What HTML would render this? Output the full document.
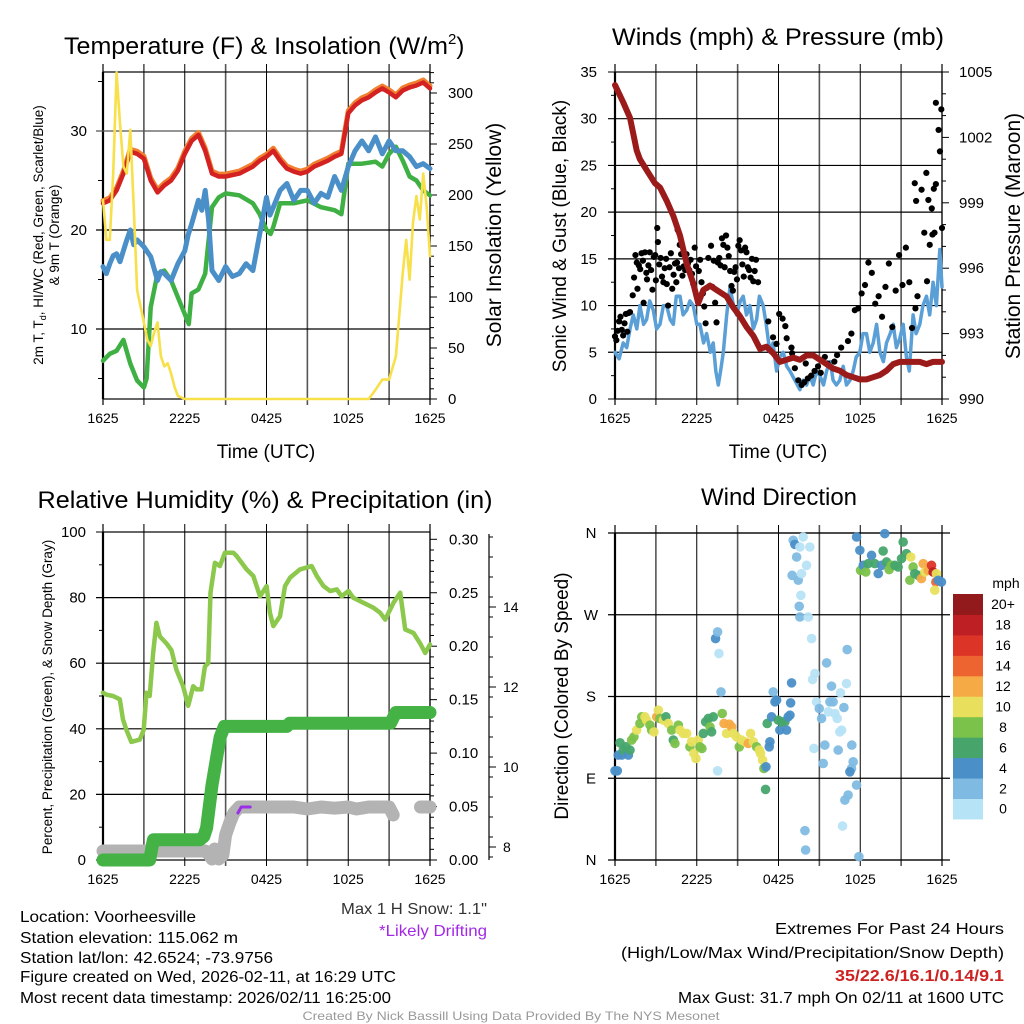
<!DOCTYPE html>
<html><head><meta charset="utf-8"><style>
html,body{margin:0;padding:0;background:#fff;width:1024px;height:1024px;overflow:hidden}
svg{display:block;font-family:"Liberation Sans",sans-serif}
</style></head><body>
<svg id="chart" xmlns="http://www.w3.org/2000/svg" width="1024" height="1024" viewBox="0 0 1024 1024"></svg>
<script>
// ---------------- DATA ----------------
const xTickLabels=["1625","2225","0425","1025","1625"];
const tempHours=[0,0.5,1,1.5,2,2.5,3,3.5,4,4.5,5,5.5,6,6.5,7,7.5,8,8.5,9,10,11,11.5,12,12.5,13,13.5,14,14.5,15,15.5,16,16.5,17,17.5,18,18.5,19,19.5,20,20.5,21,21.5,22,22.5,23,23.5,24];
const tempRed=[22.7,23,24,25.7,27.9,27.7,27.2,25,23.8,24.5,25,26,27.7,29,29.6,28,25.7,25.4,25.4,25.7,26.4,27,27.4,28,27,26.2,25.9,25.7,25.9,26.4,26.7,27,27.4,27.7,31.8,32.6,33.1,33.4,33.9,34.3,33.9,33.4,34.1,34.4,34.6,34.9,34.3];
const dewHours=[0,0.5,1,1.5,2,2.5,3,3.2,3.5,4,4.5,5,5.5,6,6.3,6.5,7,7.5,8,8.5,9,10,11,11.5,12,12.3,12.5,13,14,15,16,17,17.5,18,19,20,20.5,21,21.5,22,22.5,23,23.5,24];
const dewGreen=[6.8,7.5,7.8,8.9,6.5,4.8,4.1,5,12.2,15.6,15.9,14.9,13.2,11.5,10.5,13.6,14,15.6,22.3,23.3,23.7,23.5,22.7,21.6,20,19.6,20.3,22.7,22.7,23,22.3,22,21.6,26.7,26.7,26.9,26.4,27.7,28.4,27,25.4,25,24,23.5];
const wcHours=[0,0.25,0.5,0.75,1,1.25,1.5,1.75,2,2.25,2.5,3,3.25,3.5,4,4.25,4.5,5,5.5,6,6.25,6.5,7,7.25,7.5,7.75,8,8.5,9,9.5,10,10.5,11,11.5,12,12.25,12.5,13,13.5,14,14.5,15,15.5,16,16.5,17,17.5,18,18.5,19,19.5,20,20.5,21,21.5,22,22.5,23,23.5,24];
const wcBlue=[16.3,15.6,16.6,17.4,17.6,16.8,17.9,19,20,18.5,19,18.3,17.8,17.3,14.9,15.8,15.6,14.9,16.6,17.9,19.5,20.6,23,22,24,21,15.9,14.9,16.3,15.3,15.6,16.6,15.9,19.6,23.3,21.5,22.3,24,24.7,23,24,24,22.7,23.7,23.3,25.4,24,26.4,28,29,28,29.4,27.7,29,28,28,27.4,26.4,26.7,26.2];
const solHours=[0,0.25,0.5,0.75,1,1.25,1.5,1.75,2,2.25,2.5,2.75,3,3.25,3.5,3.75,4,4.25,4.5,4.75,5,5.25,5.5,6,19.5,20,20.5,21,21.5,22,22.25,22.5,22.75,23,23.25,23.5,23.75,24];
const solYellow=[195,156,156,221,320,270,228,221,264,189,107,91,75,58,52,65,75,42,32,35,25,12,3,0,0,9,19,19,42,124,156,117,173,199,176,221,189,140];

const windHours=[0,0.3,0.6,0.86,1.1,1.34,1.6,1.83,2.1,2.32,2.55,2.81,3.05,3.3,3.55,3.79,4.05,4.28,4.5,4.77,5,5.26,5.5,5.75,6,6.23,6.5,6.72,7,7.21,7.4,7.58,7.75,7.95,8.2,8.44,8.7,8.92,9.2,9.41,9.65,9.9,10.15,10.39,10.6,10.88,11.1,11.37,11.6,11.86,12.1,12.35,12.6,12.84,13.2,13.57,13.8,14.06,14.3,14.55,14.8,15.04,15.3,15.53,15.8,16.01,16.25,16.5,16.75,16.99,17.25,17.48,17.7,17.97,18.2,18.46,18.7,18.95,19.2,19.44,19.7,19.93,20.2,20.42,20.65,20.9,21.15,21.39,21.6,21.88,22.1,22.37,22.6,22.86,23.1,23.35,23.59,23.84,24];
const windBlue=[5,4.3,6,5.5,7.5,9,7.5,10,8,8.5,10.5,9.5,7.5,8,10,10,8.5,8,11,11,9,9.5,10.5,10,8,8,6,7,5,6,3,1.5,3,5,9,12,10,9,10.5,11,9,10,7.5,8.5,11,10,8,5,6,3,4.5,5,3.5,3,2,1,2,1.5,2.5,1.5,3,2.5,1.5,3,4,2,1.5,2,3.5,1.5,2,3,4.5,5,7,7,5,6,8,5,4,6,7,8,5.5,6.5,8,4.5,3,9,7,8,10,11,9,12.5,10,16,12,10.5];
const presHours=[0,0.61,1.1,1.59,1.83,2.32,2.93,3.3,3.79,4.28,4.77,5.26,5.75,6.11,6.48,6.97,7.46,8.19,8.68,9.17,9.66,10.15,10.64,11.12,11.61,12.1,12.59,13.08,13.57,14.06,14.55,15.04,15.53,16.01,16.5,16.99,17.48,17.97,18.46,18.95,19.44,19.93,20.42,20.9,21.39,22.37,22.86,23.35,24];
const presMb=[1004.4,1003.6,1002.9,1001.4,1001,1000.5,999.9,999.7,999.1,998.4,997.5,996.2,995.3,994.4,995,995.2,995,994.7,994.2,993.8,993.3,992.9,992.3,992.4,992.1,991.7,991.8,991.9,991.8,992,992,991.8,991.6,991.4,991.3,991.1,991,990.9,990.9,991,991.1,991.3,991.6,991.7,991.7,991.7,991.6,991.7,991.7];
const gustHours=[0,0.1,0.2,0.3,0.4,0.5,0.6,0.7,0.8,0.9,1,1.1,1.3,1.4,1.5,1.6,1.65,1.75,1.85,1.95,2.05,2.1,2.2,2.3,2.35,2.45,2.55,2.65,2.75,2.85,2.95,3,3.1,3.15,3.25,3.35,3.45,3.55,3.65,3.75,3.8,3.9,4,4.1,4.2,4.3,4.4,4.5,4.55,4.6,4.7,4.75,4.85,4.95,5.05,5.15,5.25,5.35,5.45,5.55,5.65,5.75,5.85,5.95,6.05,6.15,6.25,6.35,6.45,6.55,6.65,6.75,6.85,6.95,7.05,7.15,7.25,7.35,7.45,7.55,7.65,7.75,7.85,7.95,8.05,8.15,8.25,8.35,8.45,8.55,8.65,8.75,8.85,8.95,9.05,9.15,9.25,9.35,9.45,9.55,9.65,9.75,9.85,9.95,10.05,10.15,10.25,10.35,10.5,11.25,11.6,11.85,12.05,12.3,12.5,12.6,12.95,13.45,13.7,13.9,14.15,14.4,14.65,14.9,15.4,15.6,16.1,16.6,17.1,17.35,17.6,17.85,18.1,18.35,18.6,18.85,19.1,19.35,19.6,19.85,20.1,20.35,20.6,20.85,21.1,21.35,21.6,21.8,22.05,22.2,22,22.1,22.5,22.85,23,23.25,23.4,22.7,23.1,23.3,23.55,23.45,23.55,23.75,23.95,23.85,24,22.9,13.2,13,15.1,16.3,14];
const gustMph=[6.7,6.3,7.3,8.3,8.8,7.4,6.8,8.1,9.1,7.2,9.2,9.3,11.1,13,15.4,14.6,11.8,14.3,13.9,15.6,14.8,10.3,15.7,13.5,12.8,14.3,15.7,13.8,11.7,15.2,15.4,12.7,18.3,16.8,14.4,15.1,13.1,12.5,14,15,12.3,10,14.1,15.6,11.8,13.3,14.5,12.5,14.6,18.1,14,16.5,15.5,13.2,14.2,13.8,15.5,14.5,13.8,14.9,13.4,12.3,16.2,14.2,11,13.7,14.9,12.5,11.3,9.9,8.1,11.9,15.1,12.1,16.4,12,14.8,10.3,8.2,14.6,15.1,14.3,17.2,16.5,14.1,17.5,16.2,15.3,13.7,12.1,11.6,13.6,14.1,12.8,16.4,17,15.9,14.4,13.1,16.2,15.7,14.1,13.8,13,15,12.6,13.7,14.9,12.5,8.3,6.6,5.9,9.1,8.6,7.8,6.5,5.5,2,1.5,1.8,2.2,2.5,3,3.5,4.5,3.8,4,5.5,6.2,7,9.5,9.7,11.3,12.2,14.6,13.5,10.2,11,8.8,12,14.5,7.7,11.6,15.4,12.2,16.2,12.5,7.6,9.7,11,23.1,21.2,22.4,24.2,21.3,20.4,22.5,17.8,16.5,17.6,23,17.8,31.7,28.8,31,26.5,18.3,12.6,3.3,4.9,2.8,4.7,3.8];

const rhHours=[0,0.25,0.74,1.23,1.47,1.72,2.08,2.7,2.99,3.19,3.43,3.68,3.92,4.17,4.66,5.02,5.39,5.88,6.25,6.62,6.86,7.23,7.48,7.72,7.89,8.21,8.58,8.95,9.56,9.8,10.54,11.03,11.52,12.01,12.25,12.5,12.99,13.36,13.73,14.46,15.32,15.69,16.18,16.67,17.16,17.52,18.01,18.38,19.12,19.85,20.34,20.71,21.32,21.81,22.18,22.79,23.28,23.65,24];
const rhPct=[51,50.4,50,49,42.8,39.7,36,36.7,39.7,51,50,63,72.3,68.2,66,64,58,53,47,53,52,52,59,60,81.5,90.6,89.6,93.7,93.7,92.7,88.6,86.6,80.4,83.5,75.4,71.3,74.3,83.5,86.1,88.6,89.6,86.6,83.5,82,82.5,80.4,82,79.9,78.4,76.9,75.4,73.3,78.4,81.5,70.3,69.2,66,63.1,65.7];
const precipHours=[0,3.43,3.7,7.1,7.4,7.6,7.8,8,8.2,8.4,8.6,8.9,10.1,13.5,13.7,21.1,21.5,21.8,24];
const precipIn=[0,0,0.019,0.019,0.022,0.03,0.05,0.07,0.085,0.1,0.115,0.125,0.125,0.125,0.128,0.128,0.138,0.138,0.138];
const snowHours=[0,7.5,7.8,8,8.2,8.5,8.8,9,9.3,9.6,10,14,15,16,17,18,18.6,19.5,21,21.3,null,23.3,24];
const snowIn=[7.9,7.9,7.8,7.7,7.95,7.7,7.8,8.3,8.6,8.85,9,9,8.95,9,8.97,9,8.95,9,9,8.8,null,9,9];
const driftHours=[9.9,10.15,10.8];
const driftIn=[8.85,9.0,9.0];

const dirHours=[0,0.17,0.24,0.37,0.49,0.61,0.81,0.98,1.1,1.22,1.39,1.59,1.83,1.96,2.2,2.32,2.57,2.69,2.86,3.06,3.18,3.3,3.55,3.74,3.91,4.16,4.28,4.4,4.65,4.77,5.01,5.26,5.5,5.62,5.79,5.94,6.11,6.23,6.38,6.48,6.65,6.85,6.97,7.09,7.21,7.38,7.53,7.63,7.78,7.53,7.87,8,8.19,8.39,8.56,8.68,8.92,9.12,9.29,9.54,9.78,9.95,10.15,10.39,10.59,10.68,10.83,10.93,11.08,11.05,11.17,11.32,11.37,11.49,11.61,11.74,11.86,11.98,12.1,12.23,12.47,12.59,12.71,12.84,12.89,12.96,13.08,13.2,13.33,13.45,13.57,13.81,13,13.69,13.64,13.52,13.57,14.06,14.3,14.18,14.43,14.5,14.67,14.79,14.99,15.16,15.4,15.28,14.6,15.53,15.65,15.77,15.89,16.01,16.14,16.31,16.5,16.63,16.38,16.55,16.8,16.99,17.04,17.38,17.48,17.36,17.24,17.73,17.11,16.87,16.7,13.94,13.99,17.9,17.73,17.97,18.02,18.22,18.41,18.58,18.83,19.07,19.32,19.56,19.68,19.8,19.93,20.12,20.29,20.54,20.78,21.03,21.15,21.39,21.64,21.71,21.88,22,22.25,22.49,22.62,22.74,22.98,23.23,23.35,23.59,23.55,23.47,23.72,23.96];
const dirDeg=[98.2,98.2,115.5,129,115.5,121,124.6,115.5,121,132,135.6,143,150.3,157.6,157.6,154,148.5,143,141,157.6,165,155.8,154,157.6,150.3,143,132,128.3,148.5,143,139.3,139.3,124.6,130.1,117.3,111.8,132,124.6,122.8,139.3,152.1,155.8,146.6,141.1,157.6,243.8,251.1,227.3,185.1,98.2,161.3,150.3,139.3,149.6,146.6,139.3,135.6,124.6,132,130.1,128.3,139.3,130.1,124.6,121,117.3,110,100.8,102.6,77.7,150.3,124.6,130.1,157.6,185.1,174.1,176,154,143,152.1,152.1,143,157.6,159.5,173,195,352,347.5,333.6,308,344.6,355.6,313.4,315.3,291.4,279.3,267.6,324.4,344.6,267.6,243.8,198.7,205.3,174.1,166.8,155.8,126.5,106.3,122.8,217,163.1,174.1,191.4,174.1,161.3,155.8,141.1,143,121,184,167.9,194.3,231.7,126.5,108.1,100.8,97.1,82.5,71.5,66,37.4,32.3,11,3.7,355.6,341,318.9,324.4,317.1,326.3,335.4,326.3,315.3,324.4,340.2,359.3,328.1,319.7,324.4,324.4,322.6,331.8,350.1,337.3,308,333.6,322.6,315.3,313.4,309.8,326.3,317.1,318.9,324.4,317.1,315.3,306.1,297,308,306.1];
const dirSpeed=[5,5,5,7,5,7,7,5,7,9,9,11,9,9,11,11,9,9,11,13,11,9,11,7,11,9,7,9,9,11,11,11,9,11,11,11,11,9,9,7,7,7,9,7,7,5,3,1,3,1,9,13,11,13,13,11,11,9,11,11,13,11,11,9,11,11,11,9,5,7,7,5,5,5,3,5,5,7,5,7,7,5,5,5,5,5,3,5,3,3,1,1,3,1,1,3,3,1,1,1,1,1,1,1,3,3,3,3,1,3,1,3,3,3,1,1,1,1,3,1,3,1,3,3,3,3,5,3,3,3,1,3,3,3,5,5,9,5,9,7,5,7,5,5,7,5,7,9,9,7,7,7,7,7,9,11,9,7,7,13,13,11,13,17,19,11,15,11];
const cbLabels=["0","2","4","6","8","10","12","14","16","18","20+"];
const cbColors=["#b7e3f6","#7fbae3","#4a8fc7","#47a56c","#7bc24a","#e8e05c","#f6aa46","#ee6430","#dd3428","#bd1f25","#931a1c"];

// ---------------- HELPERS ----------------
const NS="http://www.w3.org/2000/svg";
const svg=document.getElementById('chart');
function el(tag,attrs,parent){const e=document.createElementNS(NS,tag);for(const k in attrs)e.setAttribute(k,attrs[k]);(parent||svg).appendChild(e);return e;}
function txt(s,x,y,size,anchor,parent,extra){const t=el('text',Object.assign({x:x,y:y,'font-size':size,'text-anchor':anchor||'middle',fill:'#000'},extra||{}),parent);t.textContent=s;return t;}
function pathD(xs,ys,fx,fy){let d='',pen=false;for(let i=0;i<xs.length;i++){if(xs[i]===null||ys[i]===null){pen=false;continue;}d+=(pen?'L':'M')+fx(xs[i]).toFixed(1)+','+fy(ys[i]).toFixed(1);pen=true;}return d;}

function panel(name,x0,x1,y0,y1){
  const g=el('g',{});
  
  
  const fx=h=>x0+h*(x1-x0)/24;
  for(let h=3;h<24;h+=3){const l=el('line',{x1:fx(h),x2:fx(h),y1:y0-8,y2:y1+6,stroke:(h%6===0)?'#000':'#555','stroke-width':(h%6===0)?1:1.6},g);
    
    }
  for(let h=0;h<=24;h+=24){const l=el('line',{x1:fx(h),x2:fx(h),y1:y0-8,y2:y1+6,stroke:'#000','stroke-width':1.2},g);
    
    }
  const fr=el('rect',{x:x0,y:y0,width:x1-x0,height:y1-y0,fill:'none',stroke:'#000','stroke-width':1.2},g);
  
  
  const la=el('line',{x1:x0,x2:x0,y1:y0,y2:y1,stroke:'#000','stroke-width':2.2},g);
  
  
  xTickLabels.forEach((s,i)=>{const t=txt(s,fx(i*6),y1+24,14,'middle',g);
    
    });
  return {g,fx};
}
function hgrid(g,x0,x1,y,color){const l=el('line',{x1:x0-7,x2:x1,y1:y,y2:y,stroke:color||'#000','stroke-width':1.2},g);
  
  }
function tick(g,x,y,len){const l=el('line',{x1:x,x2:x+len,y1:y,y2:y,stroke:'#000','stroke-width':1},g);
  
  }
function line(g,name,xs,ys,fx,fy,color,w){const p=el('path',{d:pathD(xs,ys,fx,fy),fill:'none',stroke:color,'stroke-width':w,'stroke-linejoin':'round','stroke-linecap':'round'},g);
  
  return p;}

// ---------------- PANEL 1: Temperature ----------------
(function(){
  const x0=103,x1=430,y0=72,y1=399;
  const P=panel('temperature-panel',x0,x1,y0,y1);const g=P.g,fx=P.fx;
  const fy=v=>329-(v-10)*9.9, fs=v=>399-v*1.02;
  [10,20,30].forEach(v=>{hgrid(g,x0,x1,fy(v),v===30?'#555':'#000');const t=txt(String(v),87,fy(v)+5,15,'end',g);
    
    });
  [5,15,25,35].forEach(v=>tick(g,x0-5,fy(v),5));
  for(let v=0;v<=320;v+=10){tick(g,x1,fs(v),v%50===0?7:4);}
  [0,50,100,150,200,250,300].forEach(v=>{const t=txt(String(v),448,fs(v)+5,15,'start',g);
    
    });
  const cp=el('clipPath',{id:'c1'},g);el('rect',{x:x0-4,y:y0-4,width:x1-x0+8,height:y1-y0+6},cp);
  const s=el('g',{'clip-path':'url(#c1)'},g);
  line(s,'dewpoint-line',dewHours,dewGreen,fx,fy,'#3fb043',4.5);
  line(s,'windchill-line',wcHours,wcBlue,fx,fy,'#4a8fc8',5);
  line(s,'temp-9m-line',tempHours,tempRed.map(v=>v+0.25),fx,fy,'#f08030',5);
  line(s,'temp-2m-line',tempHours,tempRed,fx,fy,'#d42121',4.5);
  line(s,'solar-insolation-line',solHours,solYellow,fx,fs,'#f7e04a',2.6);
  const t1=el('text',{x:64,y:54,'font-size':24,'text-anchor':'start',fill:'#000'},svg);
  t1.innerHTML='<tspan textLength="384" lengthAdjust="spacingAndGlyphs">Temperature (F) &amp; Insolation (W/m</tspan><tspan font-size="15" dy="-10">2</tspan><tspan dy="10">)</tspan>';
  
  
  const yl=el('text',{transform:'translate(43,235) rotate(-90)','font-size':13.5,'text-anchor':'middle',fill:'#000'},g);
  yl.innerHTML='2m T, T<tspan font-size="9" dy="3">d</tspan><tspan dy="-3">, HI/WC (Red, Green, Scarlet/Blue)</tspan>';
  
  
  const yl2=el('text',{transform:'translate(59,235) rotate(-90)','font-size':13.5,'text-anchor':'middle',fill:'#000'},g);yl2.textContent='& 9m T (Orange)';
  
  
  const yr=el('text',{transform:'translate(501,235) rotate(-90)','font-size':21,'text-anchor':'middle',fill:'#000'},g);yr.textContent='Solar Insolation (Yellow)';
  
  
  const xt=txt('Time (UTC)',266,458,19,'middle',g);
  
  
})();

// ---------------- PANEL 2: Winds ----------------
(function(){
  const x0=615,x1=942,y0=72,y1=399;
  const P=panel('winds-panel',x0,x1,y0,y1);const g=P.g,fx=P.fx;
  const fy=v=>399-v*9.343, fp=p=>399-(p-990)*21.8;
  [0,5,10,15,20,25,30,35].forEach(v=>{if(v>0&&v<35)hgrid(g,x0,x1,fy(v));else tick(g,x0-7,fy(v),7);const t=txt(String(v),597,fy(v)+5,15,'end',g);
    
    });
  for(let v=2.5;v<35;v+=5)tick(g,x0-4,fy(v),4);
  for(let p=990;p<=1005;p+=1)tick(g,x1,fp(p),p%3===0?7:4);
  [990,993,996,999,1002,1005].forEach(p=>{const t=txt(String(p),959,fp(p)+5,15,'start',g);
    
    });
  const cp=el('clipPath',{id:'c2'},g);el('rect',{x:x0-4,y:y0-4,width:x1-x0+8,height:y1-y0+6},cp);
  const s=el('g',{'clip-path':'url(#c2)'},g);
  line(s,'sonic-wind-line',windHours,windBlue,fx,fy,'#5a9fd6',3.5);
  gustHours.forEach((h,i)=>{const c=el('circle',{cx:fx(h),cy:fy(gustMph[i]),r:3.1,fill:'#000'},s);
    
    });
  line(s,'station-pressure-line',presHours,presMb,fx,fp,'#9b1b1b',6);
  const t=txt('Winds (mph) & Pressure (mb)',778,45,24,'middle',svg,{textLength:332,lengthAdjust:'spacingAndGlyphs'});
  
  
  const yl=el('text',{transform:'translate(566,236) rotate(-90)','font-size':19,'text-anchor':'middle',fill:'#000'},g);yl.textContent='Sonic Wind & Gust (Blue, Black)';
  
  
  const yr=el('text',{transform:'translate(1020,236) rotate(-90)','font-size':21,'text-anchor':'middle',fill:'#000'},g);yr.textContent='Station Pressure (Maroon)';
  
  
  const xt=txt('Time (UTC)',778,458,19,'middle',g);
  
  
})();

// ---------------- PANEL 3: RH & Precip ----------------
(function(){
  const x0=103,x1=430,y0=532,y1=860;
  const P=panel('humidity-precip-panel',x0,x1,y0,y1);const g=P.g,fx=P.fx;
  const fy=v=>860-v*3.28, fpr=v=>860-v*1069, fsn=s=>847-(s-8)*40;
  [0,20,40,60,80,100].forEach(v=>{if(v>0&&v<100)hgrid(g,x0,x1,fy(v));else tick(g,x0-7,fy(v),7);const t=txt(String(v),86,fy(v)+5,15,'end',g);
    
    });
  for(let v=10;v<100;v+=20)tick(g,x0-4,fy(v),4);
  for(let k=0;k<=30;k++)tick(g,x1,fpr(k/100),k%5===0?7:4);
  ['0.00','0.05','0.10','0.15','0.20','0.25','0.30'].forEach((s,i)=>{const t=txt(s,449,fpr(i*0.05)+5,15,'start',g);
    
    });
  const sa=el('line',{x1:489,x2:489,y1:534,y2:860,stroke:'#000','stroke-width':1.2},g);
  
  
  for(let s=7.75;s<=15.75;s+=0.5)if(fsn(s)>=534&&fsn(s)<=860)tick(g,489,fsn(s),4);
  [8,10,12,14].forEach(s=>{tick(g,489,fsn(s),7);const t=txt(String(s),503,fsn(s)+5,14,'start',g);
    
    });
  const cp=el('clipPath',{id:'c3'},g);el('rect',{x:x0-8,y:y0-4,width:x1-x0+16,height:y1-y0+12},cp);
  const s=el('g',{'clip-path':'url(#c3)'},g);
  line(s,'snow-depth-line',snowHours,snowIn,fx,fsn,'#b3b3b3',13);
  line(s,'precipitation-line',precipHours,precipIn,fx,fpr,'#45b246',13);
  line(s,'likely-drifting-line',driftHours,driftIn,fx,fsn,'#9b30e8',3);
  line(s,'relative-humidity-line',rhHours,rhPct,fx,fy,'#8bc84c',4.5);
  const t=txt('Relative Humidity (%) & Precipitation (in)',265,508,24,'middle',svg,{textLength:455,lengthAdjust:'spacingAndGlyphs'});
  
  
  const yl=el('text',{transform:'translate(52,697) rotate(-90)','font-size':13.5,'text-anchor':'middle',fill:'#000'},g);yl.textContent='Percent, Precipitation (Green), & Snow Depth (Gray)';
  
  
})();

// ---------------- PANEL 4: Wind Direction ----------------
(function(){
  const x0=615,x1=942,y0=533,y1=860;
  const P=panel('wind-direction-panel',x0,x1,y0,y1);const g=P.g,fx=P.fx;
  const fy=d=>860-d*0.9083;
  const dl=['N','E','S','W','N'];
  dl.forEach((s,i)=>{const d=i*90;hgrid(g,x0,x1+8,fy(d));
    const t=txt(s,591,fy(d)+5,15,'middle',g);
    
    });
  const s=el('g',{},g);
  dirHours.forEach((h,i)=>{const sp=(dirSpeed[i]===undefined)?5:dirSpeed[i];const b=Math.min(10,Math.floor(sp/2));const c=el('circle',{cx:fx(h),cy:fy(dirDeg[i]),r:4.8,fill:cbColors[b],'fill-opacity':0.95},s);
    
    });
  const t=txt('Wind Direction',779,505,24,'middle',svg);
  
  
  const yl=el('text',{transform:'translate(568,696) rotate(-90)','font-size':19,'text-anchor':'middle',fill:'#000'},g);yl.textContent='Direction (Colored By Speed)';
  
  
  const cb=el('g',{},svg);
  
  
  const top=594,h=20.45;
  cbColors.forEach((c,i)=>{const y=top+(10-i)*h;const r=el('rect',{x:953,y:y,width:30,height:h+0.5,fill:c},cb);
    
    
    const t=txt(cbLabels[i],1003,y+h/2+5,14,'middle',cb);
    
    });
  const mt=txt('mph',1006,588,14,'middle',cb);
  
  
})();

// ---------------- FOOTER TEXT ----------------
const info=[["Location: Voorheesville",922,176],["Station elevation: 115.062 m",943,218],["Station lat/lon: 42.6524; -73.9756",963,253],["Figure created on Wed, 2026-02-11, at 16:29 UTC",982,376],["Most recent data timestamp: 2026/02/11 16:25:00",1003,371]];
info.forEach(r=>{const t=txt(r[0],20,r[1],16,'start',svg,{textLength:r[2],lengthAdjust:'spacingAndGlyphs'});
  
  });
const ms=txt('Max 1 H Snow: 1.1"',487,914,16,'end',svg,{fill:'#333',textLength:146,lengthAdjust:'spacingAndGlyphs'});


const ld=txt('*Likely Drifting',487,936,16,'end',svg,{fill:'#a228e6',textLength:108,lengthAdjust:'spacingAndGlyphs'});


const ex=[["Extremes For Past 24 Hours",934,229,'#000','normal'],["(High/Low/Max Wind/Precipitation/Snow Depth)",958,383,'#000','normal'],["35/22.6/16.1/0.14/9.1",981,169,'#cc2222','bold'],["Max Gust: 31.7 mph On 02/11 at 1600 UTC",1003,326,'#000','normal']];
ex.forEach(r=>{const t=txt(r[0],1004,r[1],16,'end',svg,{fill:r[3],'font-weight':r[4],textLength:r[2],lengthAdjust:'spacingAndGlyphs'});
  
  });
const cr=txt('Created By Nick Bassill Using Data Provided By The NYS Mesonet',511,1020,12,'middle',svg,{fill:'#999',textLength:417,lengthAdjust:'spacingAndGlyphs'});


</script>
</body></html>
